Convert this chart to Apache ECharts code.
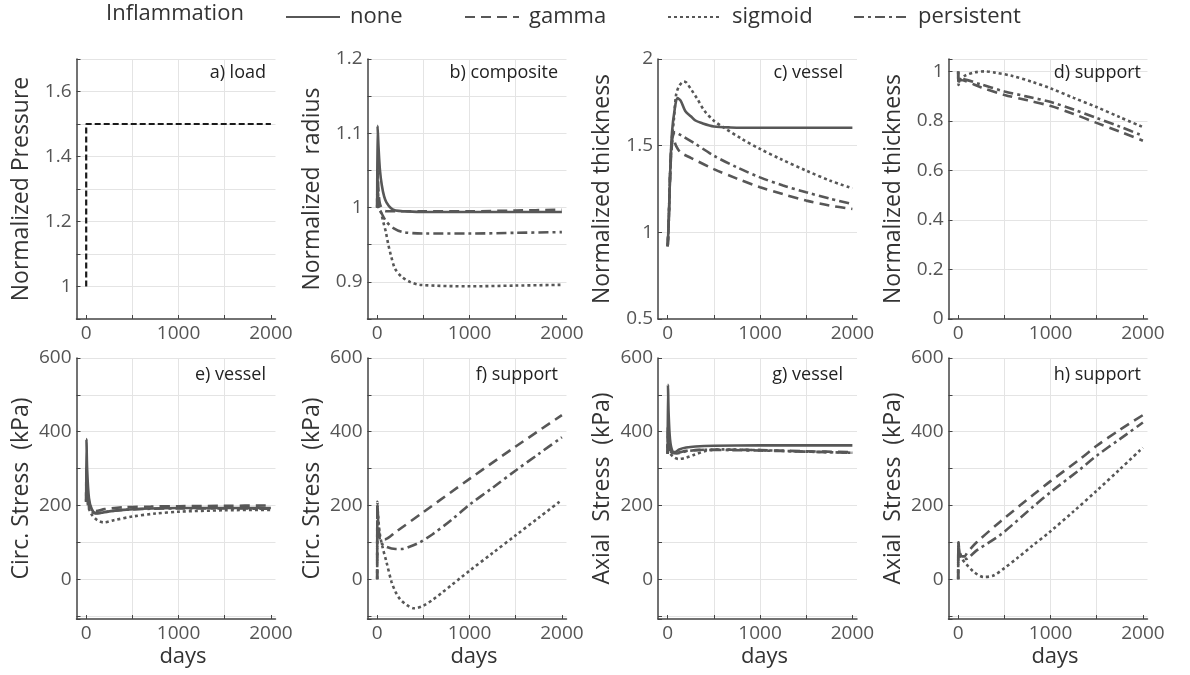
<!DOCTYPE html>
<html><head><meta charset="utf-8">
<script src="https://cdn.jsdelivr.net/npm/echarts@6/dist/echarts.min.js"></script>
<style>html,body{margin:0;padding:0;background:#fff}#c{width:1190px;height:675px}</style>
</head><body><div id="c"></div>
<script>
// ---------- data: [day, value] ----------
const loadA = [[0,1],[0,1.5],[2000,1.5]];

const bNone = [[0,1.0],[4,1.11],[15,1.08],[30,1.05],[50,1.03],[75,1.015],[100,1.007],[150,0.999],[200,0.996],[300,0.995],[500,0.994],[1000,0.994],[1500,0.994],[2000,0.994]];
const bGamma = [[0,1.0],[4,1.05],[15,1.02],[30,1.005],[60,0.997],[100,0.995],[200,0.995],[500,0.995],[1000,0.995],[1500,0.996],[2000,0.997]];
const bSigmoid = [[0,1.0],[4,1.05],[15,1.0],[40,0.994],[65,0.981],[94,0.967],[119,0.951],[148,0.936],[192,0.918],[264,0.907],[355,0.9],[463,0.896],[1000,0.894],[1500,0.895],[2000,0.896]];
const bPersistent = [[0,1.0],[4,1.04],[15,1.0],[40,0.994],[100,0.981],[180,0.972],[280,0.967],[500,0.965],[1000,0.965],[1500,0.966],[2000,0.967]];

const cNone = [[0,0.92],[11,1.06],[29,1.38],[47,1.58],[76,1.71],[105,1.775],[140,1.76],[190,1.70],[250,1.67],[300,1.645],[360,1.632],[500,1.611],[680,1.605],[1000,1.603],[1500,1.603],[2000,1.603]];
const cGamma = [[0,0.92],[11,1.06],[29,1.36],[45,1.50],[60,1.54],[90,1.50],[137,1.462],[250,1.43],[500,1.365],[750,1.31],[1000,1.26],[1250,1.22],[1500,1.183],[1750,1.155],[2000,1.135]];
const cSigmoid = [[0,0.92],[11,1.06],[29,1.38],[47,1.55],[65,1.64],[90,1.79],[120,1.84],[173,1.87],[200,1.865],[260,1.82],[320,1.77],[400,1.70],[500,1.644],[600,1.607],[800,1.54],[1000,1.481],[1222,1.423],[1500,1.356],[1760,1.298],[2000,1.254]];
const cPersistent = [[0,0.92],[11,1.06],[29,1.38],[50,1.54],[80,1.578],[137,1.562],[300,1.51],[500,1.442],[750,1.375],[1000,1.317],[1250,1.27],[1500,1.231],[1750,1.195],[2000,1.163]];

const dGamma = [[0,1.0],[4,0.945],[20,0.965],[250,0.935],[502,0.905],[750,0.883],[1004,0.86],[1250,0.828],[1498,0.792],[1750,0.757],[2000,0.72]];
const dSigmoid = [[0,1.0],[4,0.945],[20,0.965],[79,0.984],[180,0.996],[294,1.0],[400,0.995],[580,0.982],[800,0.958],[1004,0.931],[1250,0.893],[1498,0.856],[1750,0.815],[2000,0.775]];
const dPersistent = [[0,1.0],[4,0.95],[20,0.97],[250,0.947],[502,0.919],[750,0.898],[1004,0.876],[1250,0.846],[1498,0.812],[1750,0.777],[2000,0.74]];

const eNone = [[0,210],[3,380],[10,300],[30,220],[60,190],[100,180],[150,180],[250,184],[400,188],[600,191],[1000,193],[1500,193],[2000,193]];
const eGamma = [[0,210],[3,300],[15,215],[50,190],[100,185],[200,190],[400,195],[700,197],[1000,198],[1500,199],[2000,200]];
const eSigmoid = [[0,210],[3,250],[20,200],[60,175],[120,160],[190,154],[300,160],[500,170],[750,178],[1000,183],[1500,187],[2000,188]];
const ePersistent = [[0,210],[3,280],[15,210],[50,185],[100,178],[200,182],[400,188],[700,191],[1000,192],[1500,192],[2000,191]];

const fGamma = [[0,0],[3,200],[15,140],[40,108],[80,108],[200,128],[500,182],[1000,272],[1500,360],[2000,445]];
const fSigmoid = [[0,0],[3,200],[10,170],[30,120],[60,85],[100,47],[155,-7],[200,-35],[250,-55],[320,-70],[400,-79],[500,-72],[600,-56],[700,-37],[800,-17],[900,3],[1000,23],[1250,71],[1500,119],[1750,167],[2000,215]];
const fPersistent = [[0,0],[3,210],[15,130],[40,100],[100,88],[200,82],[263,82],[350,88],[461,100],[600,122],[800,160],[1000,202],[1250,248],[1500,295],[1750,340],[2000,385]];

const gNone = [[0,340],[3,527],[10,450],[25,380],[50,348],[80,345],[125,352],[200,357],[300,360],[500,362],[1000,363],[1500,363],[2000,363]];
const gGamma = [[0,340],[3,420],[15,360],[50,345],[100,343],[200,348],[400,351],[700,351],[1000,350],[1500,347],[2000,345]];
const gSigmoid = [[0,340],[3,380],[20,345],[60,332],[119,326],[200,330],[281,337],[428,349],[600,352],[1000,350],[1500,346],[2000,343]];
const gPersistent = [[0,340],[3,400],[15,355],[50,342],[100,341],[200,347],[400,351],[700,350],[1000,349],[1500,346],[2000,343]];

const hGamma = [[0,0],[3,100],[15,75],[40,62],[70,62],[97,72],[200,100],[455,156],[813,229],[1000,266],[1315,325],[1500,362],[1750,405],[2000,445]];
const hSigmoid = [[0,0],[3,90],[15,65],[40,55],[80,43],[168,20],[276,6],[383,10],[500,30],[634,56],[800,90],[1000,130],[1250,184],[1500,240],[1750,298],[2000,357]];
const hPersistent = [[0,0],[3,100],[15,70],[40,58],[70,55],[97,56],[200,78],[455,120],[813,197],[1000,236],[1315,297],[1500,335],[1750,380],[2000,425]];

// ---------- tick labels & text ----------
const xTickLabels = [0, 1000, 2000];
const yTicksA = [1, 1.2, 1.4, 1.6];
const yTicksB = [0.9, 1, 1.1, 1.2];
const yTicksC = [0.5, 1, 1.5, 2];
const yTicksD = [0, 0.2, 0.4, 0.6, 0.8, 1];
const yTicksStress = [0, 200, 400, 600];
const yNames = ['Normalized Pressure', 'Normalized  radius', 'Normalized thickness', 'Normalized thickness',
                'Circ. Stress  (kPa)', 'Circ. Stress  (kPa)', 'Axial  Stress  (kPa)', 'Axial  Stress  (kPa)'];
const panelTags = ['a) load', 'b) composite', 'c) vessel', 'd) support', 'e) vessel', 'f) support', 'g) vessel', 'h) support'];
const seriesNames = ['none', 'gamma', 'sigmoid', 'persistent'];

// ---------- layout & style ----------
const FONT = 'Open Sans';
const colLeft = [76.5, 367.5, 658, 948.5];
const colWidth = 199;
const rowTop = [59, 358];
const rowHeight = [260, 261];
const tagRight = [266, 558, 843, 1141];
const tagTop = [64, 366];
const legendLeft = [285, 464, 667, 853];
const LINE = '#575757';
const lineStyles = {
  none: {type: 'solid', width: 2.6},
  gamma: {type: [10, 6], width: 2.6},
  sigmoid: {type: [3, 3], width: 2.6},
  persistent: {type: [10, 4, 3, 4], width: 2.6}
};

const yCfg = [
  {min: 0.9, max: 1.7, interval: 0.1, labels: yTicksA},
  {min: 0.85, max: 1.2, interval: 0.05, labels: yTicksB},
  {min: 0.5, max: 2, interval: 0.5, labels: yTicksC},
  {min: 0, max: 1.05, interval: 0.2, labels: yTicksD},
  {min: -108, max: 600, step: 100, labels: yTicksStress},
  {min: -108, max: 600, step: 100, labels: yTicksStress},
  {min: -108, max: 600, step: 100, labels: yTicksStress},
  {min: -108, max: 600, step: 100, labels: yTicksStress}
];

const grids = [], xAxes = [], yAxes = [], titles = [];
for (let i = 0; i < 8; i++) {
  const r = Math.floor(i / 4), c = i % 4;
  grids.push({left: colLeft[c], top: rowTop[r], width: colWidth, height: rowHeight[r], containLabel: false});
  xAxes.push({
    type: 'value', gridIndex: i, min: -105, max: 2050, minInterval: 500, maxInterval: 500,
    axisLine: {show: true, onZero: false, lineStyle: {color: '#444', width: 1.5}},
    axisTick: {show: true, inside: true, length: 4, lineStyle: {color: '#444'}, customValues: [0, 500, 1000, 1500, 2000]},
    axisLabel: {fontSize: 19, color: '#555', margin: 5, fontFamily: FONT,
      formatter: v => xTickLabels.indexOf(Math.round(v)) >= 0 && Math.abs(v - Math.round(v)) < 1e-6 ? String(Math.round(v)) : ''},
    splitLine: {show: true, showMinLine: false, showMaxLine: false, lineStyle: {color: '#e4e4e4', width: 1}},
    name: r === 1 ? 'days' : '', nameLocation: 'middle', nameGap: 27,
    nameTextStyle: {fontSize: 22, color: '#333', fontFamily: FONT, padding: [0, 0, 0, 14]}
  });
  const yc = yCfg[i];
  const ya = {
    type: 'value', gridIndex: i, min: yc.min, max: yc.max,
    axisLine: {show: true, onZero: false, lineStyle: {color: '#444', width: 1.5}},
    axisTick: {show: true, inside: true, length: 4, lineStyle: {color: '#444'}},
    axisLabel: {fontSize: 19, color: '#555', margin: 5, fontFamily: FONT,
      formatter: v => { const m = yc.labels.find(t => Math.abs(t - v) < 1e-6); return m === undefined ? '' : String(m); }},
    splitLine: {show: true, showMinLine: false, lineStyle: {color: '#e4e4e4', width: 1}},
    name: yNames[i], nameLocation: 'middle', nameGap: 44, nameRotate: 90,
    nameTextStyle: {fontSize: 23, color: '#333', fontFamily: FONT}
  };
  if (yc.interval) ya.interval = yc.interval; else { ya.minInterval = yc.step; ya.maxInterval = yc.step; }
  yAxes.push(ya);
  titles.push({text: panelTags[i], right: 1190 - tagRight[c], top: tagTop[r], padding: 0,
    textStyle: {fontSize: 18, fontWeight: 'normal', color: '#222', fontFamily: FONT}});
}
titles.push({text: 'Inflammation', left: 106, top: 3, padding: 0,
  textStyle: {fontSize: 22, fontWeight: 'normal', color: '#333', fontFamily: FONT}});

const panelSeries = [
  [['load', loadA]],
  [['none', bNone], ['gamma', bGamma], ['sigmoid', bSigmoid], ['persistent', bPersistent]],
  [['none', cNone], ['gamma', cGamma], ['sigmoid', cSigmoid], ['persistent', cPersistent]],
  [['gamma', dGamma], ['sigmoid', dSigmoid], ['persistent', dPersistent]],
  [['none', eNone], ['gamma', eGamma], ['sigmoid', eSigmoid], ['persistent', ePersistent]],
  [['gamma', fGamma], ['sigmoid', fSigmoid], ['persistent', fPersistent]],
  [['none', gNone], ['gamma', gGamma], ['sigmoid', gSigmoid], ['persistent', gPersistent]],
  [['gamma', hGamma], ['sigmoid', hSigmoid], ['persistent', hPersistent]]
];
const series = [];
panelSeries.forEach((list, gi) => {
  list.forEach(([name, data]) => {
    const ls = name === 'load' ? {type: [6, 3], width: 2.2, color: '#1a1a1a'} : Object.assign({color: LINE}, lineStyles[name]);
    series.push({
      type: 'line', name: name, xAxisIndex: gi, yAxisIndex: gi, data: data,
      symbol: 'none', showSymbol: false, smooth: name === 'load' ? false : 0.3, clip: true,
      lineStyle: ls, itemStyle: {color: ls.color}, z: name === 'none' ? 3 : 2
    });
  });
});

const legends = seriesNames.map((n, i) => ({
  data: [n], left: legendLeft[i], top: 6, itemWidth: 54, itemHeight: 14, itemGap: 0,
  selectedMode: false, padding: 0,
  itemStyle: {opacity: 0, borderWidth: 0},
  textStyle: {fontSize: 22, color: '#333', fontFamily: FONT, padding: [0, 0, 0, 5]}
}));

const chart = echarts.init(document.getElementById('c'), null, {renderer: 'canvas'});
chart.setOption({
  animation: false,
  backgroundColor: '#fff',
  textStyle: {fontFamily: FONT},
  title: titles,
  legend: legends,
  grid: grids,
  xAxis: xAxes,
  yAxis: yAxes,
  series: series
});
</script></body></html>
